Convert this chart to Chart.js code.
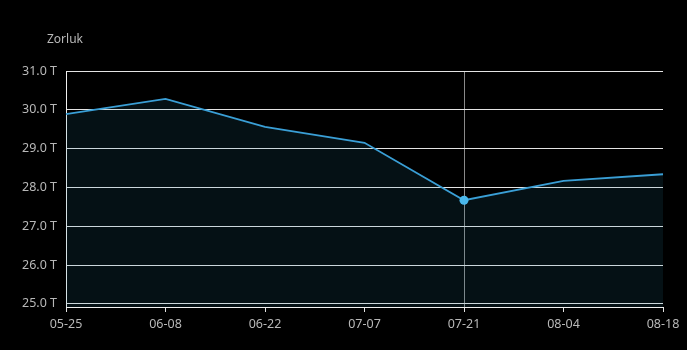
<!DOCTYPE html>
<html>
<head>
<meta charset="utf-8">
<script src="https://cdn.jsdelivr.net/npm/chart.js@4/dist/chart.umd.min.js"></script>
<style>
  html, body { margin:0; padding:0; background:#000; }
  #wrap { position:relative; width:687px; height:350px; }
  #yTitle { position:absolute; left:47px; top:30px; font:12px "Noto Sans", "Open Sans", sans-serif; color:#b8b8b8; }
  canvas { display:block; }
</style>
</head>
<body>
<div id="wrap">
  <div id="yTitle">Zorluk</div>
  <canvas id="chart" width="687" height="350"></canvas>
</div>
<script>
/* difficulty chart */
const labels = ['05-25', '06-08', '06-22', '07-07', '07-21', '08-04', '08-18'];
const difficulty = [29.89, 30.28, 29.56, 29.15, 27.67, 28.17, 28.34];
const yTicks = [25, 26, 27, 28, 29, 30, 31];
const activeIndex = 4;
const yMin = 24.92, yMax = 31;

Chart.defaults.font.family = '"Noto Sans", "Open Sans", sans-serif';
Chart.defaults.font.size = 12;

const ctx = document.getElementById('chart').getContext('2d');
new Chart(ctx, {
  type: 'line',
  data: { labels, datasets: [{
    label: 'Zorluk',
    data: difficulty,
    borderColor: '#3a9fd6',
    borderWidth: 1.8,
    backgroundColor: 'rgba(40,130,160,0.13)',
    fill: 'start',
    tension: 0,
    pointRadius: difficulty.map((v, i) => i === activeIndex ? 4.5 : 0),
    pointBackgroundColor: '#4ab8ec',
    pointBorderWidth: 0
  }]},
  options: {
    responsive: false,
    animation: false,
    layout: { padding: { left: 13, right: 24, top: 71, bottom: 13 } },
    plugins: { legend: { display: false }, tooltip: { enabled: false } },
    scales: {
      x: {
        grid: { color: c => c.index === activeIndex ? '#8a8a8a' : 'transparent', tickColor: '#e0e0e0', tickLength: 5 },
        border: { color: '#f0f0f0', width: 1 },
        ticks: { color: '#b8b8b8', padding: 5, maxRotation: 0, font: { size: 12.5 } }
      },
      y: {
        min: yMin, max: yMax,
        afterBuildTicks: s => { s.ticks = yTicks.map(v => ({ value: v })); },
        grid: { color: '#e4e4e4', drawTicks: false },
        border: { color: '#f0f0f0', width: 1 },
        ticks: { color: '#b8b8b8', padding: 9, font: { size: 12.5 },
          callback: v => v.toFixed(1) + ' T' }
      }
    }
  }
});
</script>
</body>
</html>
